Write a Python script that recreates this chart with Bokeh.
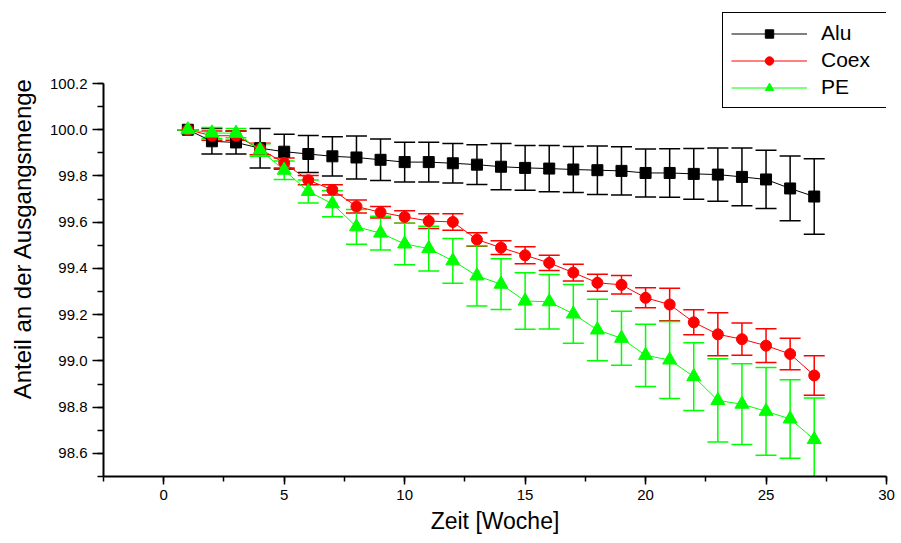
from bokeh.plotting import figure
from bokeh.models import (ColumnDataSource, Range1d, SingleIntervalTicker, PrintfTickFormatter,
                          Whisker, TeeHead, Legend, LegendItem)
from bokeh.embed import file_html
from bokeh.resources import INLINE

weeks = list(range(1, 28))
alu = [100.0, 99.95, 99.945, 99.92, 99.905, 99.895, 99.885, 99.88, 99.87, 99.86, 99.86, 99.855,
       99.849, 99.84, 99.835, 99.832, 99.828, 99.825, 99.822, 99.813, 99.813, 99.809, 99.806,
       99.796, 99.785, 99.746, 99.711]
alu_err = [0.0, 0.055, 0.05, 0.085, 0.075, 0.08, 0.085, 0.093, 0.09, 0.086, 0.086, 0.085, 0.086,
           0.1, 0.097, 0.1, 0.1, 0.105, 0.104, 0.104, 0.105, 0.11, 0.115, 0.125, 0.126, 0.14, 0.163]
coex = [100.0, 99.974, 99.974, 99.917, 99.856, 99.782, 99.74, 99.668, 99.643, 99.623, 99.605,
        99.601, 99.525, 99.49, 99.457, 99.424, 99.382, 99.338, 99.329, 99.273, 99.244, 99.167,
        99.115, 99.094, 99.066, 99.03, 98.937]
coex_err = [0.0, 0.02, 0.02, 0.025, 0.022, 0.02, 0.022, 0.028, 0.025, 0.027, 0.032, 0.036, 0.029,
            0.03, 0.037, 0.033, 0.036, 0.037, 0.04, 0.043, 0.07, 0.054, 0.093, 0.07, 0.073, 0.068,
            0.085]
pe = [100.0, 99.986, 99.985, 99.912, 99.825, 99.733, 99.68, 99.58, 99.553, 99.506, 99.486, 99.433,
      99.368, 99.332, 99.259, 99.256, 99.203, 99.134, 99.098, 99.024, 99.004, 98.932, 98.829,
      98.813, 98.782, 98.749, 98.66]
pe_err = [0.0, 0.024, 0.02, 0.027, 0.04, 0.05, 0.056, 0.075, 0.073, 0.09, 0.097, 0.097, 0.13, 0.11,
          0.122, 0.118, 0.127, 0.133, 0.117, 0.135, 0.167, 0.147, 0.18, 0.175, 0.19, 0.17, 0.18]

series = [
    ("Alu", alu, alu_err, "#000000", "square", 11),
    ("Coex", coex, coex_err, "#ff0000", "circle", 11),
    ("PE", pe, pe_err, "#00ff00", "triangle", 14),
]

FONT = "Liberation Sans"
Y_MIN, Y_AXIS_TOP = 98.5, 100.2
FRAME_H, AXIS_PX = 476, 393
Y_MAX = Y_AXIS_TOP + (FRAME_H - AXIS_PX) * (Y_AXIS_TOP - Y_MIN) / AXIS_PX

p = figure(width=901, height=543, output_backend="svg", toolbar_location=None,
           x_range=Range1d(-2.5, 30), y_range=Range1d(Y_MIN, Y_MAX),
           min_border_left=103, min_border_right=15, min_border_top=0, min_border_bottom=67)
p.outline_line_color = None
p.xgrid.visible = False
p.ygrid.visible = False
p.background_fill_color = "white"
p.border_fill_color = "white"

p.xaxis.ticker = SingleIntervalTicker(interval=5, num_minor_ticks=2)
p.yaxis.ticker = SingleIntervalTicker(interval=0.2, num_minor_ticks=2)
p.yaxis.bounds = (Y_MIN, Y_AXIS_TOP)
p.yaxis.formatter = PrintfTickFormatter(format="%.1f")
p.xaxis.axis_label = "Zeit [Woche]"
p.yaxis.axis_label = "Anteil an der Ausgangsmenge"
for ax in (p.xaxis, p.yaxis):
    ax.axis_line_width = 2
    ax.axis_line_color = "black"
    ax.major_tick_line_width = 1.5
    ax.minor_tick_line_width = 1.5
    ax.major_tick_line_color = "black"
    ax.minor_tick_line_color = "black"
    ax.major_tick_in = 0
    ax.minor_tick_in = 0
    ax.major_label_text_font = FONT
    ax.major_label_text_font_size = "15px"
    ax.major_label_text_color = "black"
    ax.axis_label_text_font = FONT
    ax.axis_label_text_font_size = "24px"
    ax.axis_label_text_font_style = "normal"
    ax.axis_label_text_color = "black"
    ax.major_label_standoff = 5
p.xaxis.axis_label_text_font_size = "23px"
p.xaxis.major_tick_out = 8
p.xaxis.minor_tick_out = 5
p.yaxis.major_tick_out = 11
p.yaxis.minor_tick_out = 6
p.xaxis.axis_label_standoff = 5
p.yaxis.axis_label_standoff = 11

items = []
for name, vals, errs, color, marker, size in series:
    src = ColumnDataSource(dict(x=weeks, y=vals,
                                upper=[v + e for v, e in zip(vals, errs)],
                                lower=[v - e for v, e in zip(vals, errs)]))
    ln = p.line("x", "y", source=src, line_color=color, line_width=1)
    w = Whisker(base="x", upper="upper", lower="lower", source=src,
                line_color=color, line_width=1.5,
                upper_head=TeeHead(size=21, line_color=color, line_width=1.5),
                lower_head=TeeHead(size=21, line_color=color, line_width=1.5))
    p.add_layout(w)
    sc = p.scatter("x", "y", source=src, marker=marker, size=size,
                   fill_color=color, line_color=color)
    items.append(LegendItem(label=name, renderers=[ln, sc]))

legend = Legend(items=items, location=(619, 368), margin=0, padding=8, spacing=3,
                glyph_width=76, glyph_height=21, label_height=21, label_width=59,
                label_standoff=14, label_text_font=FONT, label_text_font_size="21px",
                label_text_color="black", border_line_color="black", border_line_width=1,
                border_line_alpha=1, background_fill_color="white", background_fill_alpha=1)
p.add_layout(legend, "center")

open("out.html", "w").write(file_html(p, INLINE))
